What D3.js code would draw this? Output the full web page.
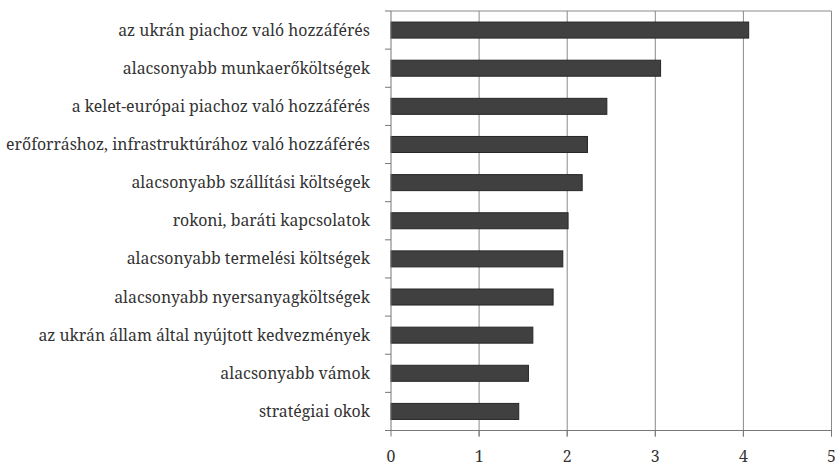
<!DOCTYPE html>
<html><head><meta charset="utf-8">
<script src="https://cdn.jsdelivr.net/npm/d3@7"></script>
<style>body{margin:0;background:#fff}</style>
</head><body>
<svg id="c" width="835" height="467"></svg>
<script>
const categories = [
  "az ukrán piachoz való hozzáférés",
  "alacsonyabb munkaerőköltségek",
  "a kelet-európai piachoz való hozzáférés",
  "erőforráshoz, infrastruktúrához való hozzáférés",
  "alacsonyabb szállítási költségek",
  "rokoni, baráti kapcsolatok",
  "alacsonyabb termelési költségek",
  "alacsonyabb nyersanyagköltségek",
  "az ukrán állam által nyújtott kedvezmények",
  "alacsonyabb vámok",
  "stratégiai okok"
];
const values = [4.06, 3.06, 2.45, 2.23, 2.17, 2.01, 1.95, 1.84, 1.61, 1.56, 1.45];
const xTicks = [0, 1, 2, 3, 4, 5];

(function () {
const svg = d3.select("#c");
const mLeft = 391, mRight = 831.5, mTop = 11, mBottom = 430.5;
const x = d3.scaleLinear().domain([0, 5]).range([mLeft, mRight]);
const y = d3.scaleBand().domain(categories).range([mTop, mBottom]).paddingInner(0.58).paddingOuter(0.29);
const font = "Noto Serif";

const probe = svg.append("text").attr("font-family", font).attr("font-size", 17).text(categories[0]);
const fs = 17 * 252 / probe.node().getComputedTextLength();
probe.remove();

svg.append("g").selectAll("line").data(xTicks.slice(1)).join("line")
  .attr("x1", d => x(d)).attr("x2", d => x(d))
  .attr("y1", mTop).attr("y2", mBottom + 6)
  .attr("stroke", "#8a8a8a").attr("stroke-width", 1);
svg.append("line").attr("x1", mLeft).attr("x2", mRight).attr("y1", mTop).attr("y2", mTop)
  .attr("stroke", "#8a8a8a");

svg.append("g").selectAll("rect").data(values).join("rect")
  .attr("x", x(0))
  .attr("y", (d, i) => y(categories[i]))
  .attr("width", d => x(d) - x(0))
  .attr("height", y.bandwidth())
  .attr("fill", "#404040")
  .attr("stroke", "#262626").attr("stroke-width", 1);

svg.append("line").attr("x1", mLeft).attr("x2", mLeft).attr("y1", mTop).attr("y2", mBottom)
  .attr("stroke", "#777");
const step = (mBottom - mTop) / categories.length;
svg.append("g").selectAll("line").data(d3.range(categories.length + 1)).join("line")
  .attr("x1", mLeft - 6).attr("x2", mLeft)
  .attr("y1", i => mTop + i * step).attr("y2", i => mTop + i * step)
  .attr("stroke", "#777");

svg.append("line").attr("x1", mLeft - 6).attr("x2", mRight).attr("y1", mBottom).attr("y2", mBottom)
  .attr("stroke", "#777");
svg.append("g").selectAll("line").data(xTicks).join("line")
  .attr("x1", d => x(d)).attr("x2", d => x(d)).attr("y1", mBottom).attr("y2", mBottom + 6)
  .attr("stroke", "#777");
svg.append("g").selectAll("text").data(xTicks).join("text")
  .attr("x", d => x(d)).attr("y", 462)
  .attr("text-anchor", "middle")
  .attr("font-family", font).attr("font-size", fs).attr("fill", "#333")
  .text(d => d);

svg.append("g").selectAll("text").data(categories).join("text")
  .attr("x", 370).attr("y", d => y(d) + y.bandwidth() / 2)
  .attr("dy", "0.35em")
  .attr("text-anchor", "end")
  .attr("font-family", font).attr("font-size", fs).attr("fill", "#333")
  .text(d => d);
})();
</script>
</body></html>
